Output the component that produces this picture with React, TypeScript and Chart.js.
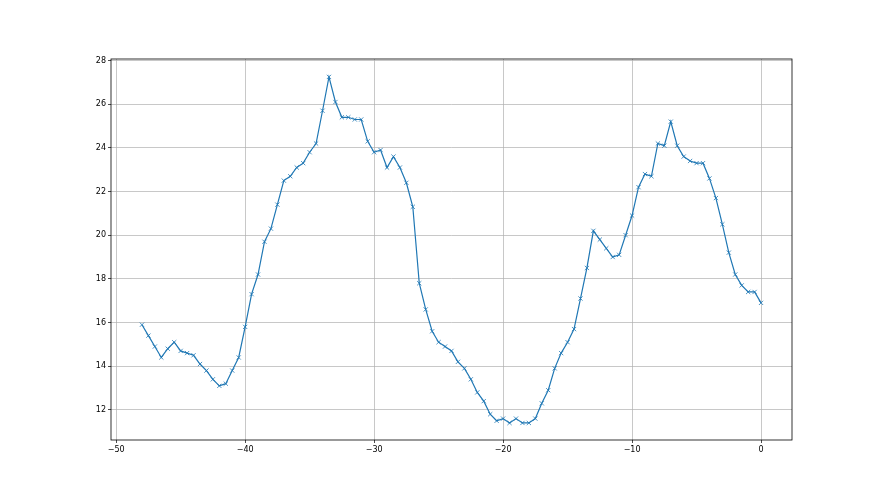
import React, { useEffect, useRef } from "react";
import { Chart, registerables } from "chart.js";

Chart.register(...registerables);

const xValues: number[] = [
  -48, -47.5, -47, -46.5, -46, -45.5, -45, -44.5, -44, -43.5, -43, -42.5, -42, -41.5, -41, -40.5,
  -40, -39.5, -39, -38.5, -38, -37.5, -37, -36.5, -36, -35.5, -35, -34.5, -34, -33.5, -33, -32.5,
  -32, -31.5, -31, -30.5, -30, -29.5, -29, -28.5, -28, -27.5, -27, -26.5, -26, -25.5, -25, -24.5,
  -24, -23.5, -23, -22.5, -22, -21.5, -21, -20.5, -20, -19.5, -19, -18.5, -18, -17.5, -17, -16.5,
  -16, -15.5, -15, -14.5, -14, -13.5, -13, -12.5, -12, -11.5, -11, -10.5, -10, -9.5, -9, -8.5,
  -8, -7.5, -7, -6.5, -6, -5.5, -5, -4.5, -4, -3.5, -3, -2.5, -2, -1.5, -1, -0.5, 0,
];

const yValues: number[] = [
  15.9, 15.4, 14.9, 14.4, 14.8, 15.1, 14.7, 14.6, 14.5, 14.1, 13.8, 13.4, 13.1, 13.2, 13.8, 14.4,
  15.8, 17.3, 18.2, 19.7, 20.3, 21.4, 22.5, 22.7, 23.1, 23.3, 23.8, 24.2, 25.7, 27.25, 26.1, 25.4,
  25.4, 25.3, 25.3, 24.3, 23.8, 23.9, 23.1, 23.6, 23.1, 22.4, 21.3, 17.8, 16.6, 15.6, 15.1, 14.9,
  14.7, 14.2, 13.9, 13.4, 12.8, 12.4, 11.8, 11.5, 11.6, 11.4, 11.6, 11.4, 11.4, 11.6, 12.3, 12.9,
  13.9, 14.6, 15.1, 15.7, 17.1, 18.5, 20.2, 19.8, 19.4, 19.0, 19.1, 20.0, 20.9, 22.2, 22.8, 22.7,
  24.2, 24.1, 25.2, 24.1, 23.6, 23.4, 23.3, 23.3, 22.6, 21.7, 20.5, 19.2, 18.2, 17.7, 17.4, 17.4, 16.9,
];

const xTicks: number[] = [-50, -40, -30, -20, -10, 0];
const yTicks: number[] = [12, 14, 16, 18, 20, 22, 24, 26, 28];

const framePlugin = {
  id: "frame",
  afterDraw(chart: any) {
    const { ctx, chartArea } = chart;
    ctx.save();
    ctx.strokeStyle = "#000000";
    ctx.lineWidth = 0.8;
    ctx.strokeRect(chartArea.left, chartArea.top, chartArea.right - chartArea.left, chartArea.bottom - chartArea.top);
    ctx.restore();
  },
};

export default function App() {
  const ref = useRef<HTMLCanvasElement | null>(null);

  useEffect(() => {
    if (!ref.current) return;
    const chart = new Chart(ref.current, {
      type: "line",
      data: {
        datasets: [
          {
            data: xValues.map((x, i) => ({ x, y: yValues[i] })),
            borderColor: "#1f77b4",
            backgroundColor: "#1f77b4",
            borderWidth: 1.2,
            pointStyle: "crossRot",
            pointRadius: 3,
            pointBorderWidth: 0.8,
            pointBorderColor: "#1f77b4",
            pointHoverRadius: 3,
            fill: false,
            tension: 0,
          },
        ],
      },
      options: {
        animation: false,
        responsive: false,
        maintainAspectRatio: false,
        events: [],
        layout: { padding: { left: 81, right: 88, top: 59, bottom: 25 } },
        plugins: { legend: { display: false }, tooltip: { enabled: false }, title: { display: false } },
        scales: {
          x: {
            type: "linear",
            min: -50.4,
            max: 2.4,
            afterBuildTicks: (scale: any) => {
              scale.ticks = xTicks.map((v) => ({ value: v }));
            },
            afterFit: (scale: any) => {
              scale.height = 30;
            },
            grid: { color: "#b0b0b0", lineWidth: 0.7, tickColor: "#000000", tickLength: 3, drawTicks: true },
            border: { display: false },
            ticks: {
              color: "#000000",
              font: { family: "DejaVu Sans", size: 8 },
              padding: 2,
              maxRotation: 0,
              autoSkip: false,
              callback: (v: any) => (v < 0 ? "\u2212" + Math.abs(v) : String(v)),
            },
          },
          y: {
            type: "linear",
            min: 10.62,
            max: 28.07,
            afterBuildTicks: (scale: any) => {
              scale.ticks = yTicks.map((v) => ({ value: v }));
            },
            afterFit: (scale: any) => {
              scale.width = 30;
            },
            grid: { color: "#b0b0b0", lineWidth: 0.7, tickColor: "#000000", tickLength: 3, drawTicks: true },
            border: { display: false },
            ticks: {
              color: "#000000",
              font: { family: "DejaVu Sans", size: 8 },
              padding: 2,
              autoSkip: false,
              callback: (v: any) => String(v),
            },
          },
        },
      },
      plugins: [framePlugin],
    });
    return () => chart.destroy();
  }, []);

  return (
    <div style={{ position: "fixed", left: 0, top: 0, width: 880, height: 495, background: "#ffffff" }}>
      <canvas ref={ref} width={880} height={495} style={{ width: 880, height: 495, display: "block" }} />
    </div>
  );
}
